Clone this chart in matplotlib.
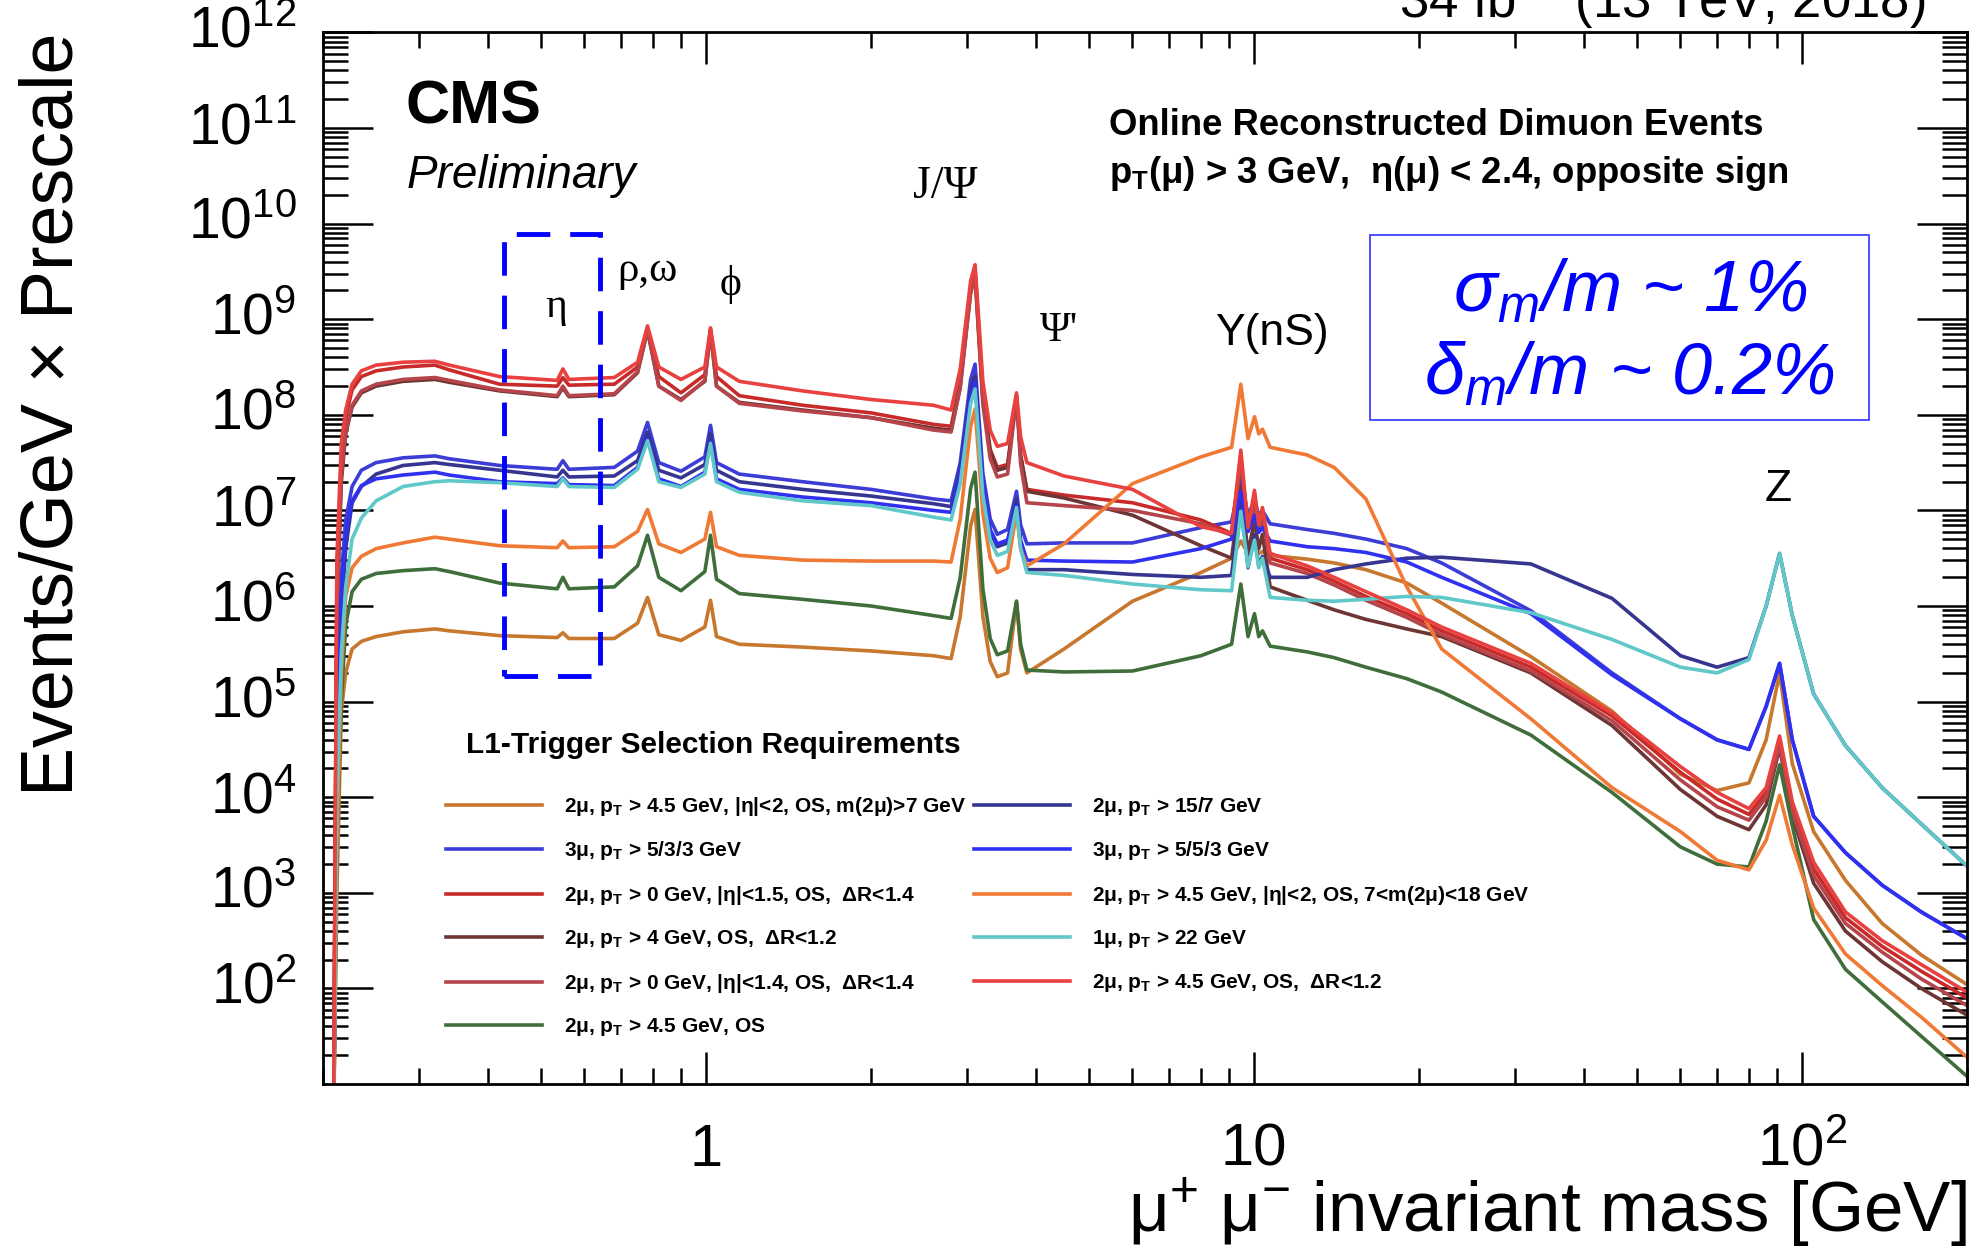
import numpy as np
import matplotlib
matplotlib.use("Agg")
from matplotlib import pyplot as plt
from matplotlib import patches
from matplotlib.ticker import LogLocator, FixedLocator, FixedFormatter, NullFormatter

plt.rcParams['font.family'] = ['Liberation Sans', 'DejaVu Sans']
plt.rcParams['mathtext.fontset'] = 'custom'
plt.rcParams['mathtext.rm'] = 'Liberation Sans'
plt.rcParams['mathtext.it'] = 'Liberation Sans:italic'
plt.rcParams['mathtext.bf'] = 'Liberation Sans:bold'
plt.rcParams['mathtext.default'] = 'regular'

# dimuon invariant mass points [GeV]
mass = [0.209, 0.212, 0.216, 0.22, 0.226, 0.235, 0.25, 0.28, 0.32, 0.34,
        0.42, 0.535, 0.548, 0.562, 0.68, 0.75, 0.782, 0.82, 0.9, 0.995,
        1.019, 1.045, 1.15, 1.5, 2.0, 2.6, 2.8, 2.91, 2.99, 3.04,
        3.097, 3.14, 3.2, 3.3, 3.4, 3.55, 3.686, 3.75, 3.85, 4.5,
        6.0, 8.0, 9.1, 9.46, 9.75, 10.02, 10.2, 10.36, 10.7, 12.5,
        14, 16, 19, 22, 32, 45, 60, 70, 80, 86,
        91, 96, 105, 120, 140, 165, 200]

# log10(Events/GeV x Prescale) per L1 seed
dimu_m7 = [0.5, 3.0, 4.90, 5.30, 5.55, 5.63, 5.68, 5.73, 5.76, 5.74,
           5.69, 5.67, 5.72, 5.66, 5.66, 5.82, 6.09, 5.70, 5.64, 5.78,
           6.06, 5.68, 5.60, 5.57, 5.53, 5.48, 5.45, 5.89, 6.48, 6.84,
           7.01, 6.54, 5.89, 5.42, 5.26, 5.30, 6.05, 5.55, 5.30, 5.55,
           6.05, 6.35, 6.50, 6.68, 6.55, 6.62, 6.55, 6.57, 6.53, 6.49,
           6.45, 6.38, 6.24, 6.03, 5.47, 4.90, 4.24, 4.07, 4.15, 4.60,
           5.30, 4.35, 3.64, 3.13, 2.68, 2.35, 2.04]
trimu_533 = [0.5, 4.5, 6.30, 6.90, 7.25, 7.42, 7.50, 7.55, 7.57, 7.54,
             7.47, 7.43, 7.52, 7.43, 7.45, 7.62, 7.92, 7.50, 7.41, 7.56,
             7.89, 7.50, 7.38, 7.30, 7.22, 7.12, 7.10, 7.50, 8.04, 8.37,
             8.53, 8.05, 7.39, 6.91, 6.75, 6.80, 7.20, 6.85, 6.65, 6.66,
             6.66, 6.82, 6.88, 7.35, 6.95, 7.10, 6.95, 7.00, 6.86, 6.80,
             6.76, 6.70, 6.60, 6.45, 5.95, 5.30, 4.82, 4.60, 4.50, 4.95,
             5.40, 4.60, 3.80, 3.42, 3.08, 2.80, 2.52]
dimu0_er15 = [0.5, 6.3, 7.55, 7.98, 8.26, 8.40, 8.46, 8.50, 8.52, 8.47,
              8.32, 8.30, 8.39, 8.31, 8.32, 8.50, 8.91, 8.40, 8.23, 8.42,
              8.90, 8.40, 8.20, 8.10, 8.02, 7.90, 7.88, 8.34, 8.96, 9.34,
              9.52, 8.96, 8.20, 7.64, 7.45, 7.48, 8.20, 7.58, 7.22, 7.16,
              7.08, 6.90, 6.76, 7.58, 6.80, 7.14, 6.82, 6.98, 6.50, 6.38,
              6.26, 6.10, 5.92, 5.74, 5.36, 4.85, 4.26, 3.98, 3.82, 4.05,
              4.60, 3.90, 3.25, 2.74, 2.44, 2.18, 1.90]
dimu4_dr12 = [0.5, 5.9, 7.30, 7.80, 8.08, 8.23, 8.30, 8.35, 8.37, 8.34,
              8.25, 8.19, 8.28, 8.19, 8.21, 8.44, 8.88, 8.30, 8.16, 8.35,
              8.87, 8.30, 8.13, 8.05, 7.97, 7.86, 7.84, 8.30, 8.92, 9.30,
              9.48, 8.92, 8.16, 7.61, 7.42, 7.45, 8.20, 7.57, 7.20, 7.13,
              6.95, 6.63, 6.50, 7.25, 6.55, 6.90, 6.60, 6.75, 6.20, 6.06,
              5.96, 5.86, 5.76, 5.68, 5.30, 4.75, 4.08, 3.80, 3.66, 3.92,
              4.52, 3.80, 3.10, 2.60, 2.28, 2.00, 1.72]
dimu0_er14 = [0.5, 6.0, 7.35, 7.82, 8.10, 8.25, 8.32, 8.37, 8.39, 8.36,
              8.26, 8.20, 8.30, 8.20, 8.22, 8.45, 8.89, 8.30, 8.15, 8.36,
              8.88, 8.30, 8.12, 8.04, 7.97, 7.84, 7.82, 8.28, 8.90, 9.27,
              9.45, 8.88, 8.11, 7.54, 7.35, 7.38, 8.18, 7.49, 7.08, 7.05,
              7.00, 6.86, 6.74, 7.52, 6.78, 7.08, 6.78, 6.93, 6.45, 6.34,
              6.22, 6.06, 5.88, 5.70, 5.32, 4.80, 4.18, 3.90, 3.76, 4.00,
              4.55, 3.85, 3.18, 2.68, 2.38, 2.10, 1.82]
dimu45_os = [0.5, 3.5, 5.00, 5.80, 6.15, 6.28, 6.34, 6.37, 6.39, 6.36,
             6.24, 6.18, 6.30, 6.18, 6.20, 6.42, 6.74, 6.30, 6.16, 6.36,
             6.74, 6.28, 6.13, 6.07, 6.00, 5.90, 5.87, 6.30, 6.88, 7.23,
             7.40, 6.88, 6.18, 5.66, 5.49, 5.53, 6.05, 5.60, 5.33, 5.31,
             5.32, 5.48, 5.60, 6.23, 5.68, 5.92, 5.68, 5.74, 5.58, 5.52,
             5.46, 5.36, 5.24, 5.10, 4.65, 4.05, 3.48, 3.30, 3.27, 3.75,
             4.34, 3.70, 2.72, 2.20, 1.86, 1.50, 1.08]
dimu_15_7 = [0.5, 4.0, 5.90, 6.60, 7.08, 7.25, 7.38, 7.47, 7.50, 7.48,
             7.42, 7.35, 7.42, 7.35, 7.36, 7.52, 7.82, 7.42, 7.34, 7.48,
             7.80, 7.42, 7.30, 7.22, 7.15, 7.07, 7.04, 7.42, 7.94, 8.26,
             8.41, 7.93, 7.26, 6.78, 6.62, 6.66, 7.12, 6.66, 6.38, 6.38,
             6.33, 6.30, 6.32, 7.15, 6.40, 6.75, 6.42, 6.52, 6.30, 6.30,
             6.38, 6.44, 6.50, 6.51, 6.44, 6.08, 5.48, 5.36, 5.46, 6.00,
             6.55, 5.90, 5.08, 4.54, 4.10, 3.72, 3.28]
trimu_553 = [0.5, 4.3, 6.10, 6.75, 7.10, 7.26, 7.33, 7.37, 7.40, 7.37,
             7.30, 7.28, 7.34, 7.27, 7.26, 7.45, 7.75, 7.33, 7.25, 7.40,
             7.72, 7.33, 7.22, 7.14, 7.08, 7.00, 6.98, 7.36, 7.88, 8.19,
             8.34, 7.88, 7.26, 6.80, 6.65, 6.69, 7.05, 6.69, 6.48, 6.47,
             6.46, 6.60, 6.70, 7.20, 6.78, 6.95, 6.77, 6.82, 6.68, 6.62,
             6.60, 6.56, 6.46, 6.30, 5.92, 5.28, 4.82, 4.60, 4.50, 4.95,
             5.40, 4.60, 3.80, 3.42, 3.08, 2.80, 2.52]
dimu_m7_18 = [0.5, 3.5, 5.30, 6.10, 6.40, 6.52, 6.60, 6.66, 6.72, 6.70,
              6.63, 6.61, 6.68, 6.61, 6.62, 6.78, 7.01, 6.65, 6.56, 6.70,
              6.98, 6.62, 6.53, 6.48, 6.47, 6.47, 6.46, 6.91, 7.52, 7.88,
              8.06, 7.60, 6.97, 6.50, 6.35, 6.40, 6.98, 6.60, 6.42, 6.65,
              7.28, 7.56, 7.66, 8.32, 7.75, 7.98, 7.80, 7.85, 7.66, 7.58,
              7.45, 7.12, 6.20, 5.55, 4.82, 4.10, 3.64, 3.34, 3.24, 3.55,
              4.02, 3.50, 2.84, 2.36, 2.03, 1.70, 1.28]
mu22 = [0.5, 4.0, 5.50, 6.20, 6.70, 6.92, 7.10, 7.25, 7.30, 7.31,
        7.29, 7.25, 7.33, 7.25, 7.24, 7.43, 7.73, 7.30, 7.24, 7.38,
        7.70, 7.30, 7.19, 7.10, 7.05, 6.93, 6.90, 7.28, 7.80, 8.12,
        8.27, 7.80, 7.16, 6.69, 6.53, 6.57, 7.03, 6.60, 6.35, 6.32,
        6.23, 6.17, 6.16, 6.99, 6.41, 6.69, 6.40, 6.50, 6.09, 6.06,
        6.05, 6.07, 6.10, 6.09, 5.93, 5.65, 5.36, 5.30, 5.44, 6.00,
        6.55, 5.90, 5.08, 4.54, 4.10, 3.72, 3.28]
dimu45_dr12 = [0.5, 6.5, 7.70, 8.05, 8.32, 8.46, 8.52, 8.55, 8.56, 8.52,
               8.40, 8.36, 8.48, 8.37, 8.39, 8.55, 8.93, 8.50, 8.37, 8.50,
               8.91, 8.50, 8.35, 8.25, 8.16, 8.10, 8.05, 8.48, 9.05, 9.40,
               9.57, 9.06, 8.35, 7.84, 7.67, 7.70, 8.23, 7.77, 7.50, 7.36,
               7.22, 6.83, 6.76, 7.63, 6.82, 7.21, 6.85, 7.03, 6.55, 6.42,
               6.30, 6.15, 5.96, 5.78, 5.40, 4.88, 4.32, 4.05, 3.88, 4.10,
               4.64, 3.95, 3.32, 2.80, 2.50, 2.25, 1.96]

labels_left = ["2μ, p$_{T}$ > 4.5 GeV, |η|<2, OS, m(2μ)>7 GeV",
               "3μ, p$_{T}$ > 5/3/3 GeV",
               "2μ, p$_{T}$ > 0 GeV, |η|<1.5, OS,  ΔR<1.4",
               "2μ, p$_{T}$ > 4 GeV, OS,  ΔR<1.2",
               "2μ, p$_{T}$ > 0 GeV, |η|<1.4, OS,  ΔR<1.4",
               "2μ, p$_{T}$ > 4.5 GeV, OS"]
labels_right = ["2μ, p$_{T}$ > 15/7 GeV",
                "3μ, p$_{T}$ > 5/5/3 GeV",
                "2μ, p$_{T}$ > 4.5 GeV, |η|<2, OS, 7<m(2μ)<18 GeV",
                "1μ, p$_{T}$ > 22 GeV",
                "2μ, p$_{T}$ > 4.5 GeV, OS,  ΔR<1.2"]

xtick_vals = [1, 10, 100]
xtick_labels = ["1", "10", "$10^{2}$"]
ytick_vals = [10.0 ** k for k in range(2, 13)]
ytick_labels = ["$10^{%d}$" % k for k in range(2, 13)]

series_left = [dimu_m7, trimu_533, dimu0_er15, dimu4_dr12, dimu0_er14, dimu45_os]
colors_left = ['#c8772e', '#3c3cd6', '#c82a2a', '#6e3535', '#b5454a', '#3f6e3b']
series_right = [dimu_15_7, trimu_553, dimu_m7_18, mu22, dimu45_dr12]
colors_right = ['#363690', '#3030f0', '#f07a35', '#60c8c8', '#e8413f']


def fx(px):
    return px / 1980.0


def fy(py):
    return 1.0 - py / 1256.0


fig = plt.figure(figsize=(19.8, 12.56), dpi=100)
ax = fig.add_axes([fx(323), fy(1084), (1967 - 323) / 1980.0, (1084 - 32.4) / 1256.0])

m = np.array(mass)
h_left, h_right = [], []
for vals, c in zip(series_left, colors_left):
    h_left.append(ax.plot(m, 10.0 ** np.array(vals), color=c, lw=2.6)[0])
for vals, c in zip(series_right, colors_right):
    h_right.append(ax.plot(m, 10.0 ** np.array(vals), color=c, lw=2.6)[0])

ax.set_xscale('log')
ax.set_yscale('log')
ax.set_xlim(0.2, 200)
ax.set_ylim(10, 1e12)

ax.xaxis.set_major_locator(FixedLocator(xtick_vals))
ax.xaxis.set_major_formatter(FixedFormatter(xtick_labels))
ax.xaxis.set_minor_locator(LogLocator(base=10, subs=np.arange(2, 10), numticks=50))
ax.xaxis.set_minor_formatter(NullFormatter())
ax.yaxis.set_major_locator(FixedLocator(ytick_vals))
ax.yaxis.set_major_formatter(FixedFormatter(ytick_labels))
ax.yaxis.set_minor_locator(LogLocator(base=10, subs=np.arange(2, 10), numticks=100))
ax.yaxis.set_minor_formatter(NullFormatter())

for s in ax.spines.values():
    s.set_linewidth(2)
ax.tick_params(which='both', direction='in', top=True, right=True, width=1.8)
ax.tick_params(axis='x', which='major', length=23, labelsize=43, pad=59)
ax.tick_params(axis='x', which='minor', length=11.5)
ax.tick_params(axis='y', which='major', length=36, labelsize=41, pad=19)
ax.tick_params(axis='y', which='minor', length=18)
for t in ax.xaxis.get_major_ticks():
    t.label1.set_verticalalignment('baseline')
for t in ax.yaxis.get_major_ticks():
    t.label1.set_verticalalignment('center')

ax.set_xlabel("μ$^{+}$ μ$^{-}$ invariant mass [GeV]", fontsize=51, loc='right')
ax.xaxis.set_label_coords(1.0, -0.0875)
ax.set_ylabel("Events/GeV × Prescale", fontsize=53, loc='top')
ax.yaxis.set_label_coords(-0.143, 1.0)

# eta region box
box = patches.Rectangle((0.428, 1.87e5), 0.641 - 0.428, 7.85e9 - 1.87e5, fill=False,
                        ec='#0000ff', lw=3.5, ls=(0, (6.9, 4.1)), zorder=6)
ax.add_patch(box)

# resonance labels
serif = ['Liberation Serif', 'DejaVu Serif']
fig.text(fx(556), fy(307), "η", fontsize=30, family=serif, ha='center', va='center')
fig.text(fx(647), fy(271), "ρ,ω", fontsize=31, family=serif, ha='center', va='center')
fig.text(fx(731), fy(285), "ϕ", fontsize=30, family=serif, ha='center', va='center')
fig.text(fx(945), fy(187), "J/Ψ", fontsize=33, family=serif, ha='center', va='center')
fig.text(fx(1059), fy(331), "Ψ'", fontsize=30, family=serif, ha='center', va='center')
fig.text(fx(1272), fy(333), "Υ(nS)", fontsize=32, ha='center', va='center')
fig.text(fx(1778), fy(489), "Z", fontsize=32, ha='center', va='center')

fig.text(fx(405), fy(123), "CMS", fontsize=44, fontweight='bold', va='baseline')
fig.text(fx(407), fy(188), "Preliminary", fontsize=33, style='italic', va='baseline')
fig.text(fx(1109), fy(135), "Online Reconstructed Dimuon Events", fontsize=26.3,
         fontweight='bold', va='baseline')
fig.text(fx(1109), fy(183), "p$_{T}$(μ) > 3 GeV,  η(μ) < 2.4, opposite sign", fontsize=26.3,
         fontweight='bold', va='baseline')
fig.text(fx(1926), fy(18), "34 fb$^{-1}$ (13 TeV, 2018)", fontsize=38, ha='right', va='baseline')

# resolution box
fig.add_artist(patches.Rectangle((fx(1370), fy(420)), (1869 - 1370) / 1980.0, (420 - 235) / 1256.0,
                                 transform=fig.transFigure, fill=False, ec='#3030ff', lw=1.2))
fig.text(fx(1630), fy(312), "σ$_{m}$/m ~ 1%", fontsize=52, style='italic', color='#0000ff',
         ha='center', va='baseline')
fig.text(fx(1630), fy(395), "δ$_{m}$/m ~ 0.2%", fontsize=52, style='italic', color='#0000ff',
         ha='center', va='baseline')

# legend
fig.text(fx(466), fy(753), "L1-Trigger Selection Requirements", fontsize=21.5,
         fontweight='bold', va='baseline')
leg_kw = dict(loc='upper left', bbox_transform=fig.transFigure, frameon=False,
              prop=dict(size=15, weight='bold'), handlelength=4.6, handletextpad=1.05,
              labelspacing=1.03, borderpad=0, borderaxespad=0)
fig.legend(h_left, labels_left, bbox_to_anchor=(fx(446), fy(795)), **leg_kw)
fig.legend(h_right, labels_right, bbox_to_anchor=(fx(974), fy(795)), **leg_kw)

fig.savefig("out.png", dpi=100)
